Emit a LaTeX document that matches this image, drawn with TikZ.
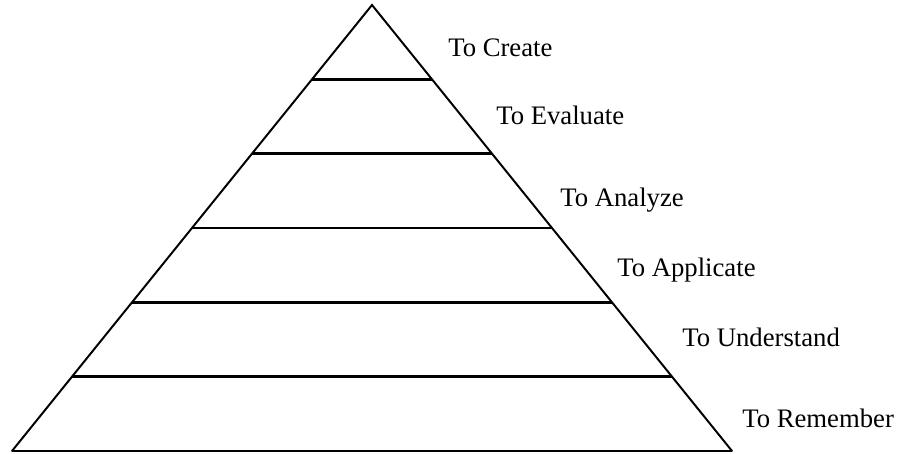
\documentclass[tikz,border=0pt]{standalone}
\usepackage{fontspec}
\setmainfont{Liberation Serif}

\begin{document}
\begin{tikzpicture}[
levellabel/.style={anchor=base west, inner sep=0pt, font=\fontsize{19}{23}\selectfont},
sideline/.style={line width=1.4pt, line cap=round},
levelline/.style={line width=2.1pt}
]
    \useasboundingbox (0,0) rectangle (22.425,11.35);

    \coordinate (top) at (9.3,11.225);
    \coordinate (bl) at (0.3,0.075);
    \coordinate (br) at (18.3,0.075);

    \coordinate (l1) at (7.8,9.367);
    \coordinate (r1) at (10.8,9.367);
    \coordinate (l2) at (6.3,7.508);
    \coordinate (r2) at (12.3,7.508);
    \coordinate (l3) at (4.8,5.65);
    \coordinate (r3) at (13.8,5.65);
    \coordinate (l4) at (3.3,3.792);
    \coordinate (r4) at (15.3,3.792);
    \coordinate (l5) at (1.8,1.933);
    \coordinate (r5) at (16.8,1.933);

    \node [levellabel] (create) at (11.2,9.925) {To Create};
    \node [levellabel] (evaluate) at (12.4,8.225) {To Evaluate};
    \node [levellabel] (analyze) at (14.0,6.175) {To Analyze};
    \node [levellabel] (applicate) at (15.425,4.425) {To Applicate};
    \node [levellabel] (understand) at (17.05,2.675) {To Understand};
    \node [levellabel] (remember) at (18.55,0.65) {To Remember};

    \draw [sideline] (bl) -- (top) -- (br);
    \draw [levelline] (bl) edge (br);

    \draw [levelline] (l1) edge (r1);
    \draw [levelline] (l2) edge (r2);
    \draw [levelline] (l3) edge (r3);
    \draw [levelline] (l4) edge (r4);
    \draw [levelline] (l5) edge (r5);
\end{tikzpicture}
\end{document}
